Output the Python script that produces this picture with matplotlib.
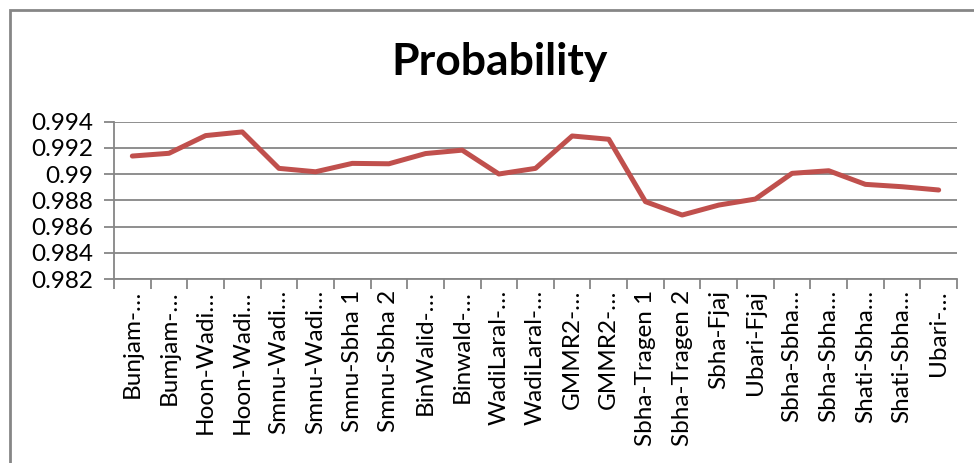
import matplotlib
matplotlib.use('Agg')
import matplotlib.pyplot as plt
from matplotlib.patches import Rectangle

# data
labels = ['Bunjam-…', 'Bumjam-…', 'Hoon-Wadi…', 'Hoon-Wadi…', 'Smnu-Wadi…',
          'Smnu-Wadi…', 'Smnu-Sbha 1', 'Smnu-Sbha 2', 'BinWalid-…', 'Binwald-…',
          'WadiLaral-…', 'WadiLaral-…', 'GMMR2-…', 'GMMR2-…', 'Sbha-Tragen 1',
          'Sbha-Tragen 2', 'Sbha-Fjaj', 'Ubari-Fjaj', 'Sbha-Sbha…', 'Sbha-Sbha…',
          'Shati-Sbha…', 'Shati-Sbha…', 'Ubari-…']
probability = [0.99138, 0.99159, 0.99294, 0.99322, 0.99044,
               0.99018, 0.99082, 0.99079, 0.99157, 0.99183,
               0.99001, 0.99044, 0.99291, 0.99266, 0.98790,
               0.98688, 0.98764, 0.98810, 0.99006, 0.99026,
               0.98922, 0.98904, 0.98879]
yticks = [0.982, 0.984, 0.986, 0.988, 0.99, 0.992, 0.994]
ytick_labels = ['0.982', '0.984', '0.986', '0.988', '0.99', '0.992', '0.994']

plt.rcParams['font.family'] = ['Lato', 'DejaVu Sans']
grey = '#868686'

fig = plt.figure(figsize=(9.74, 4.63), dpi=100)
ax = fig.add_axes([114/974, 1-279/463, (957-114)/974, (279-121.7)/463])

x = list(range(len(labels)))
ax.plot(x, probability, color='#C0504D', lw=3.6, solid_joinstyle='round',
        solid_capstyle='round', zorder=3)

ax.set_xlim(-0.5, len(labels) - 0.5)
ax.set_ylim(0.982, 0.994)
ax.set_yticks(yticks)
ax.set_yticklabels(ytick_labels, fontsize=17.5)
ax.yaxis.grid(True, color=grey, lw=1.3)
ax.set_axisbelow(True)

# category labels at centers, tick marks at boundaries (Excel style)
ax.set_xticks(x)
ax.set_xticklabels(labels, rotation=90, fontsize=17.5, va='top', ha='center')
ax.tick_params(axis='x', which='major', length=0, pad=8)
ax.set_xticks([i - 0.5 for i in range(len(labels) + 1)], minor=True)
ax.tick_params(axis='x', which='minor', length=7, color=grey, width=1.3)
ax.tick_params(axis='y', length=7, color=grey, width=1.3, pad=8)

for s in ['top', 'right']:
    ax.spines[s].set_visible(False)
for s in ['left', 'bottom']:
    ax.spines[s].set_color(grey)
    ax.spines[s].set_linewidth(1.3)

fig.text(500/974, 1-62/463, 'Probability', fontsize=32, fontweight='bold',
         ha='center', va='center')

# chart area border (only top and left visible in the crop)
fig.patches.append(Rectangle((10/974, -0.1), 1.2, 1 - 9.5/463 + 0.1,
                             transform=fig.transFigure, fill=False,
                             edgecolor=grey, lw=2))

fig.savefig('out.png', dpi=100)
